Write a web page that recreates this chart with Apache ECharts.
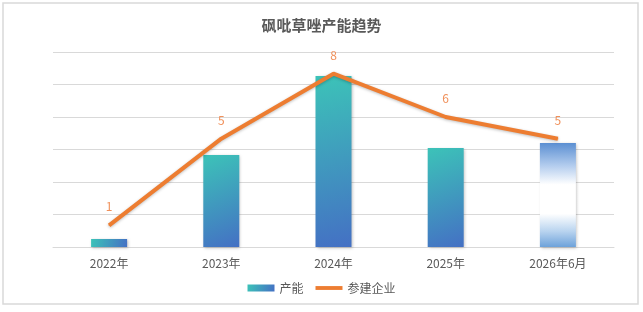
<!DOCTYPE html>
<html>
<head>
<meta charset="utf-8">
<script src="https://cdn.jsdelivr.net/npm/echarts@6/dist/echarts.min.js"></script>
<style>
html, body { margin: 0; padding: 0; background: #fff; }
#main { width: 643px; height: 312px; }
</style>
</head>
<body>
<div id="main"></div>
<script>
var years = ['2022年', '2023年', '2024年', '2025年', '2026年6月'];
var capacity = [250, 2830, 5260, 3050, 3200];
var companies = [1, 5, 8, 6, 5];

var chart = echarts.init(document.getElementById('main'));
var font = '"Noto Sans CJK SC", "Noto Sans", sans-serif';

var barColor = new echarts.graphic.LinearGradient(0, 0, 1, 1, [
	{offset: 0, color: '#3cc3b8'},
	{offset: 1, color: '#4470c4'}
]);

// last bar (forecast) drawn with a pale center
var lastBarColor = new echarts.graphic.LinearGradient(0, 0, 0, 1, [
	{offset: 0, color: '#5b8fd2'},
	{offset: 0.22, color: '#b4cdee'},
	{offset: 0.4, color: '#ffffff'},
	{offset: 0.68, color: '#ffffff'},
	{offset: 0.85, color: '#b8d3ef'},
	{offset: 1, color: '#6da2da'}
]);

var barData = capacity.map(function(v, i){
	if(i == capacity.length - 1){
		return {value: v, itemStyle: {color: lastBarColor}};
	}
	return v;
});

var option = {
	backgroundColor: '#fff',
	textStyle: {fontFamily: font},
	graphic: [{
		type: 'rect',
		shape: {x: 3, y: 3, width: 635, height: 301},
		style: {fill: 'none', stroke: '#d9d9d9', lineWidth: 1.5},
		silent: true
	}],
	title: {
		text: '砜吡草唑产能趋势',
		left: 'center',
		top: 13,
		textStyle: {fontSize: 15, fontWeight: 'bold', color: '#595959', fontFamily: font}
	},
	legend: {
		bottom: 13,
		left: 'center',
		itemWidth: 27,
		itemHeight: 7,
		itemGap: 12,
		textStyle: {fontSize: 12, color: '#595959', fontFamily: font},
		data: [
			{name: '产能', icon: 'rect'},
			{name: '参建企业', icon: 'path://M0,0 L28,0 L28,4 L0,4 Z'}
		]
	},
	grid: {left: 53, right: 29, top: 52, bottom: 65},
	xAxis: {
		type: 'category',
		data: years,
		axisTick: {show: false},
		axisLine: {lineStyle: {color: '#d9d9d9', width: 1}},
		axisLabel: {fontSize: 12, color: '#595959', margin: 10, fontFamily: font}
	},
	yAxis: [
		{
			type: 'value',
			min: 0,
			max: 6000,
			interval: 1000,
			axisLabel: {show: false},
			axisLine: {show: false},
			axisTick: {show: false},
			splitLine: {lineStyle: {color: '#d9d9d9', width: 1}}
		},
		{
			type: 'value',
			min: 0,
			max: 9,
			show: false,
			splitLine: {show: false}
		}
	],
	series: [
		{
			name: '产能',
			type: 'bar',
			barWidth: 36,
			data: barData,
			itemStyle: {
				color: barColor,
				shadowColor: 'rgba(0,0,0,0.25)',
				shadowBlur: 3,
				shadowOffsetX: 1,
				shadowOffsetY: 1
			}
		},
		{
			name: '参建企业',
			type: 'line',
			yAxisIndex: 1,
			data: companies,
			symbol: 'circle',
			symbolSize: 1,
			lineStyle: {
				color: '#ed7d31',
				width: 4,
				shadowColor: 'rgba(0,0,0,0.25)',
				shadowBlur: 3,
				shadowOffsetY: 1
			},
			itemStyle: {color: '#ed7d31'},
			label: {
				show: true,
				position: 'top',
				distance: 12,
				fontSize: 12,
				color: '#f0905a',
				fontFamily: font
			},
			z: 3
		}
	]
};

chart.setOption(option);
</script>
</body>
</html>
